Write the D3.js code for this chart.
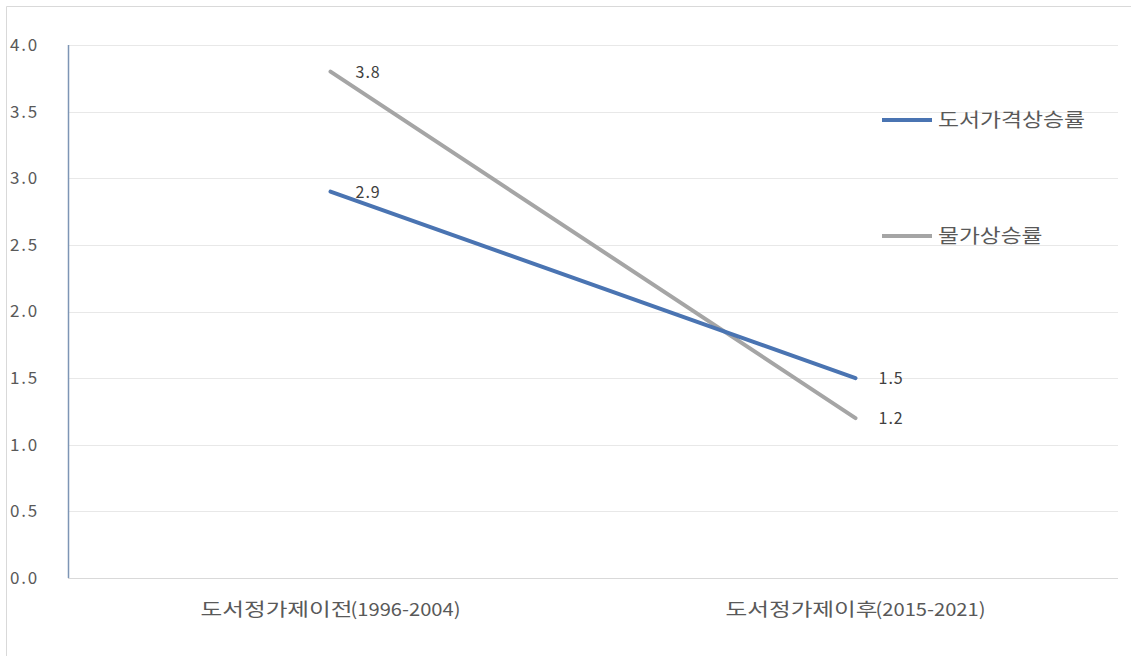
<!DOCTYPE html>
<html>
<head>
<meta charset="utf-8">
<script src="https://cdn.jsdelivr.net/npm/d3@7"></script>
<style>
  html, body { margin: 0; padding: 0; background: #fff; }
  svg { display: block; font-family: "Noto Sans CJK KR", "Noto Sans", sans-serif; }
</style>
</head>
<body>
<svg id="chart" width="1131" height="656"></svg>
<script>
// Categories and series
const categoryNames = ["도서정가제이전", "도서정가제이후"];
const categoryPeriods = ["(1996-2004)", "(2015-2021)"];
const categories = categoryNames.map((n, i) => n + categoryPeriods[i]);
const seriesNames = ["도서가격상승률", "물가상승률"];
const bookPrice = [2.9, 1.5];
const consumerPrice = [3.8, 1.2];
const yTicks = [0, 0.5, 1, 1.5, 2, 2.5, 3, 3.5, 4];

const colors = ["#4a74b2", "#a5a5a5"];
const series = [
  { name: seriesNames[0], values: bookPrice, color: colors[0] },
  { name: seriesNames[1], values: consumerPrice, color: colors[1] }
];

const svg = d3.select("#chart");
const W = 1131, H = 656;
const plot = { left: 68, right: 1118, top: 45, bottom: 578 };
const hangulAdvance = 22;   // per-syllable width used for the wide Korean labels
const periodWidth = 110;

// chart frame (top and left edges visible)
svg.append("line").attr("x1", 6.5).attr("x2", W).attr("y1", 6.5).attr("y2", 6.5)
  .attr("stroke", "#d9d9d9").attr("stroke-width", 1);
svg.append("line").attr("x1", 6.5).attr("x2", 6.5).attr("y1", 6.5).attr("y2", H)
  .attr("stroke", "#d9d9d9").attr("stroke-width", 1);

const x = d3.scaleBand().domain(categories).range([plot.left, plot.right]);
const y = d3.scaleLinear().domain([0, 4]).range([plot.bottom, plot.top]);
const cx = c => x(c) + x.bandwidth() / 2;

// horizontal gridlines
svg.append("g").selectAll("line").data(yTicks.filter(d => d > 0)).join("line")
  .attr("x1", plot.left).attr("x2", plot.right)
  .attr("y1", d => Math.round(y(d)) + 0.5).attr("y2", d => Math.round(y(d)) + 0.5)
  .attr("stroke", "#e8e8e8").attr("stroke-width", 1);

// x axis baseline
svg.append("line").attr("x1", plot.left).attr("x2", plot.right)
  .attr("y1", plot.bottom + 0.5).attr("y2", plot.bottom + 0.5)
  .attr("stroke", "#d9d9d9").attr("stroke-width", 1);

// y axis line
svg.append("line").attr("x1", plot.left + 0.5).attr("x2", plot.left + 0.5)
  .attr("y1", plot.top).attr("y2", plot.bottom)
  .attr("stroke", "#7d95b5").attr("stroke-width", 1.5);

// y tick labels
svg.append("g").selectAll("text").data(yTicks).join("text")
  .attr("x", 10).attr("y", d => y(d))
  .attr("dy", "0.35em")
  .attr("font-size", 17).attr("letter-spacing", 1.8).attr("fill", "#595959")
  .text(d => d3.format(".1f")(d));

// category labels: wide Korean name followed by the period
const catG = svg.append("g").selectAll("g").data(categories).join("g")
  .attr("transform", (d, i) => {
    const total = categoryNames[i].length * hangulAdvance + periodWidth - 4;
    return `translate(${cx(d) - total / 2},611)`;
  });
catG.append("text")
  .attr("dominant-baseline", "middle")
  .attr("font-size", 18).attr("fill", "#595959")
  .attr("textLength", (d, i) => categoryNames[i].length * hangulAdvance - 2)
  .attr("lengthAdjust", "spacingAndGlyphs")
  .text((d, i) => categoryNames[i]);
catG.append("text")
  .attr("x", (d, i) => categoryNames[i].length * hangulAdvance - 4)
  .attr("dominant-baseline", "middle")
  .attr("font-size", 18).attr("fill", "#595959")
  .attr("textLength", periodWidth)
  .attr("lengthAdjust", "spacingAndGlyphs")
  .text((d, i) => categoryPeriods[i]);

// series lines (gray drawn first, blue on top)
const line = d3.line().x((d, i) => cx(categories[i])).y(d => y(d));
svg.append("g").selectAll("path").data([series[1], series[0]]).join("path")
  .attr("d", s => line(s.values))
  .attr("fill", "none").attr("stroke", s => s.color)
  .attr("stroke-width", 4).attr("stroke-linecap", "round");

// data labels
const labelG = svg.append("g");
series.forEach(s => {
  s.values.forEach((v, i) => {
    const px = cx(categories[i]);
    labelG.append("text")
      .attr("x", i === 0 ? px + 25 : px + 23)
      .attr("y", y(v))
      .attr("dy", "0.38em")
      .attr("font-size", 16).attr("letter-spacing", 1).attr("fill", "#404040")
      .text(d3.format(".1f")(v));
  });
});

// legend
const legendY = [120, 236];
const legend = svg.append("g").selectAll("g").data(series).join("g")
  .attr("transform", (d, i) => `translate(882,${legendY[i]})`);
legend.append("line").attr("x1", 0).attr("x2", 50)
  .attr("stroke", d => d.color).attr("stroke-width", 4);
legend.append("text").attr("x", 56).attr("dy", "0.36em")
  .attr("font-size", 19).attr("fill", "#595959")
  .attr("textLength", d => d.name.length * 21.3 - 2)
  .attr("lengthAdjust", "spacingAndGlyphs")
  .text(d => d.name);
</script>
</body>
</html>
